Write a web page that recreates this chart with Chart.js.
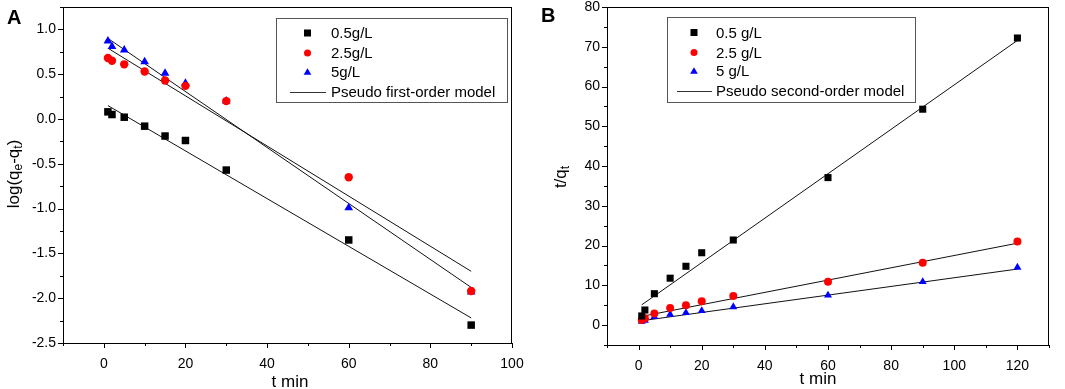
<!DOCTYPE html>
<html>
<head>
<meta charset="utf-8">
<script src="https://cdn.jsdelivr.net/npm/chart.js@4.4.0/dist/chart.umd.min.js"></script>
<style>
  html, body { margin: 0; padding: 0; background: #fff; }
  #wrap { position: relative; width: 1065px; height: 389px; }
  .panel { position: absolute; top: 0; height: 389px; }
  #pa { left: 0; width: 530px; }
  #pb { left: 530px; width: 535px; }
</style>
</head>
<body>
<div id="wrap">
  <div class="panel" id="pa"><canvas id="chartA"></canvas></div>
  <div class="panel" id="pb"><canvas id="chartB"></canvas></div>
</div>
<script>
// Panel A: pseudo first-order, log(qe-qt) vs t
const timeA = [1, 2, 5, 10, 15, 20, 30, 60, 90];
const logA05 = [0.08, 0.05, 0.02, -0.08, -0.19, -0.24, -0.57, -1.35, -2.30];
const logA25 = [0.68, 0.65, 0.61, 0.53, 0.43, 0.37, 0.20, -0.65, -1.92];
const logA5 = [0.87, 0.81, 0.77, 0.64, 0.51, 0.40, 0.20, -0.99, -1.93];
const fitTimeA = [1, 90];
const fitA05 = [0.15, -2.22];
const fitA25 = [0.79, -1.70];
const fitA5 = [0.90, -1.88];
const labelsA = ['0.5g/L', '2.5g/L', '5g/L', 'Pseudo first-order model'];
const ticksAX = [0, 20, 40, 60, 80, 100];
const ticksAY = [-2.5, -2.0, -1.5, -1.0, -0.5, 0.0, 0.5, 1.0];

// Panel B: pseudo second-order, t/qt vs t
const timeB = [1, 2, 5, 10, 15, 20, 30, 60, 90, 120];
const ratioB05 = [2.3, 3.8, 7.9, 11.8, 14.8, 18.2, 21.4, 37.1, 54.3, 72.2];
const ratioB25 = [1.3, 1.7, 2.9, 4.3, 5.0, 6.0, 7.3, 10.9, 15.7, 21.0];
const ratioB5 = [0.9, 1.2, 2.1, 2.7, 3.1, 3.6, 4.6, 7.5, 10.9, 14.5];
const fitTimeB = [1, 120];
const fitB05 = [5.1, 71.6];
const fitB25 = [2.2, 20.6];
const fitB5 = [1.1, 14.1];
const labelsB = ['0.5 g/L', '2.5 g/L', '5 g/L', 'Pseudo second-order model'];
const ticksBX = [0, 20, 40, 60, 80, 100, 120];
const ticksBY = [0, 10, 20, 30, 40, 50, 60, 70, 80];

const FONT = '"Liberation Sans", Arial, sans-serif';
const colors = ['#000000', '#ff0000', '#0000ff'];
const shapes = ['rect', 'circle', 'triangle'];

const toXY = (xs, ys) => xs.map((x, i) => ({ x: x, y: ys[i] }));

function drawMarker(ctx, shape, x, y, r, color) {
  ctx.fillStyle = color;
  ctx.beginPath();
  if (shape === 'rect') {
    ctx.rect(x - r, y - r, 2 * r, 2 * r);
  } else if (shape === 'circle') {
    ctx.arc(x, y, r, 0, Math.PI * 2);
  } else {
    ctx.moveTo(x, y - r * 1.1);
    ctx.lineTo(x + r * 1.1, y + r * 0.8);
    ctx.lineTo(x - r * 1.1, y + r * 0.8);
    ctx.closePath();
  }
  ctx.fill();
}

// text with subscripts, drawn centred at the current origin
function drawRich(ctx, parts, size) {
  const small = Math.round(size * 0.7);
  let total = 0;
  parts.forEach(p => {
    ctx.font = (p.sub ? small : size) + 'px ' + FONT;
    total += ctx.measureText(p.t).width;
  });
  let x = -total / 2;
  parts.forEach(p => {
    ctx.font = (p.sub ? small : size) + 'px ' + FONT;
    ctx.fillText(p.t, x, p.sub ? size * 0.28 : 0);
    x += ctx.measureText(p.t).width;
  });
}

const framePlugin = {
  id: 'frame',
  afterDraw(chart, args, o) {
    const { ctx, chartArea: a, scales } = chart;
    const xs = scales.x, ys = scales.y;
    ctx.save();
    ctx.strokeStyle = '#000';
    ctx.lineWidth = 1;
    ctx.strokeRect(Math.round(a.left) + 0.5, Math.round(a.top) + 0.5,
      Math.round(a.right - a.left) - 1, Math.round(a.bottom - a.top));

    // outward ticks, major + minor
    ctx.beginPath();
    const nx = Math.round((xs.max - xs.min) / (o.xStep / 2));
    for (let i = 0; i <= nx; i++) {
      const v = xs.min + i * o.xStep / 2;
      const major = Math.abs(v / o.xStep - Math.round(v / o.xStep)) < 1e-6;
      const px = Math.round(xs.getPixelForValue(v)) + 0.5;
      ctx.moveTo(px, a.bottom);
      ctx.lineTo(px, a.bottom + (major ? 5 : 3));
    }
    const ny = Math.round((ys.max - ys.min) / (o.yStep / 2));
    for (let i = 0; i <= ny; i++) {
      const v = ys.min + i * o.yStep / 2;
      const major = Math.abs(v / o.yStep - Math.round(v / o.yStep)) < 1e-6;
      const py = Math.round(ys.getPixelForValue(v)) + 0.5;
      ctx.moveTo(a.left, py);
      ctx.lineTo(a.left - (major ? 5 : 3), py);
    }
    ctx.stroke();

    // panel letter
    ctx.fillStyle = '#000';
    ctx.font = 'bold 20px ' + FONT;
    ctx.textAlign = 'left';
    ctx.textBaseline = 'middle';
    ctx.fillText(o.letter, o.letterX, o.letterY);

    // x title
    ctx.font = '17px ' + FONT;
    ctx.textAlign = 'center';
    ctx.fillText(o.xTitle, o.xTitleX, o.xTitleY);

    // y title, rotated
    ctx.save();
    ctx.translate(o.yTitleX, o.yTitleY);
    ctx.rotate(-Math.PI / 2);
    ctx.textAlign = 'left';
    drawRich(ctx, o.yTitle, 17);
    ctx.restore();

    // legend box
    const L = o.legend;
    ctx.strokeStyle = '#555';
    ctx.strokeRect(L.x + 0.5, L.y + 0.5, L.w, L.h);
    ctx.font = '15px ' + FONT;
    ctx.textAlign = 'left';
    ctx.textBaseline = 'middle';
    L.labels.forEach((lab, i) => {
      const y = L.rows[i];
      if (i < 3) {
        drawMarker(ctx, shapes[i], L.symX, y, 3.5, colors[i]);
      } else {
        ctx.strokeStyle = '#333';
        ctx.beginPath();
        ctx.moveTo(L.lineX0, Math.round(y) + 0.5);
        ctx.lineTo(L.lineX1, Math.round(y) + 0.5);
        ctx.stroke();
      }
      ctx.fillStyle = '#000';
      ctx.fillText(lab, L.textX, y + 1);
    });
    ctx.restore();
  }
};

function makeChart(id, cfg) {
  const datasets = [];
  cfg.series.forEach((ys, i) => {
    datasets.push({
      data: toXY(cfg.time, ys),
      pointStyle: shapes[i],
      pointRadius: cfg.radii[i],
      pointHoverRadius: cfg.radii[i],
      backgroundColor: colors[i],
      borderColor: colors[i],
      borderWidth: 0,
      showLine: false,
      order: 0
    });
  });
  cfg.fits.forEach(ys => {
    datasets.push({
      data: toXY(cfg.fitTime, ys),
      showLine: true,
      pointRadius: 0,
      borderColor: '#111',
      borderWidth: 1,
      fill: false,
      order: 1
    });
  });

  return new Chart(document.getElementById(id), {
    type: 'scatter',
    data: { datasets: datasets },
    options: {
      responsive: true,
      maintainAspectRatio: false,
      animation: false,
      layout: { padding: { left: 0, top: 7, right: cfg.padRight, bottom: 0 } },
      plugins: {
        legend: { display: false },
        tooltip: { enabled: false },
        frame: cfg.frame
      },
      scales: {
        x: {
          type: 'linear',
          min: cfg.xMin, max: cfg.xMax,
          grid: { display: false, drawTicks: false },
          border: { display: false },
          ticks: { padding: 13, color: '#000', font: { family: FONT, size: 14 } },
          afterBuildTicks: s => { s.ticks = cfg.xTicks.map(v => ({ value: v })); },
          afterFit: s => { s.height = cfg.xHeight; s.paddingLeft = 0; s.paddingRight = 0; }
        },
        y: {
          type: 'linear',
          min: cfg.yMin, max: cfg.yMax,
          grid: { display: false, drawTicks: false },
          border: { display: false },
          ticks: { padding: 7, color: '#000', font: { family: FONT, size: 14 },
                   callback: v => cfg.yFmt(v) },
          afterBuildTicks: s => { s.ticks = cfg.yTicks.map(v => ({ value: v })); },
          afterFit: s => { s.width = cfg.yWidth; s.paddingTop = 0; s.paddingBottom = 0; }
        }
      }
    },
    plugins: [framePlugin]
  });
}

makeChart('chartA', {
  time: timeA,
  series: [logA05, logA25, logA5],
  radii: [5.3, 4.2, 5],
  fitTime: fitTimeA,
  fits: [fitA05, fitA25, fitA5],
  xMin: -10, xMax: 100, yMin: -2.5, yMax: 1.25,
  xTicks: ticksAX, yTicks: ticksAY,
  yWidth: 63, xHeight: 46, padRight: 18,
  yFmt: v => v.toFixed(1),
  frame: {
    xStep: 20, yStep: 0.5,
    letter: 'A', letterX: 7, letterY: 18,
    xTitle: 't min', xTitleX: 290, xTitleY: 382,
    yTitle: [{ t: 'log(q' }, { t: 'e', sub: true }, { t: '-q' }, { t: 't', sub: true }, { t: ')' }],
    yTitleX: 14, yTitleY: 174,
    legend: {
      x: 276, y: 18, w: 231, h: 84,
      rows: [33, 53, 72, 92],
      symX: 307.5, textX: 331, lineX0: 290, lineX1: 326,
      labels: labelsA
    }
  }
});

makeChart('chartB', {
  time: timeB,
  series: [ratioB05, ratioB25, ratioB5],
  radii: [5, 4, 4.6],
  fitTime: fitTimeB,
  fits: [fitB05, fitB25, fitB5],
  xMin: -10, xMax: 130, yMin: -5, yMax: 80,
  xTicks: ticksBX, yTicks: ticksBY,
  yWidth: 77, xHeight: 44, padRight: 16,
  yFmt: v => String(v),
  frame: {
    xStep: 20, yStep: 10,
    letter: 'B', letterX: 11, letterY: 16,
    xTitle: 't min', xTitleX: 288, xTitleY: 379,
    yTitle: [{ t: 't/q' }, { t: 't', sub: true }],
    yTitleX: 31, yTitleY: 177,
    legend: {
      x: 137, y: 17, w: 248, h: 85,
      rows: [32.5, 52.5, 71, 91],
      symX: 164, textX: 186, lineX0: 147, lineX1: 182,
      labels: labelsB
    }
  }
});
</script>
</body>
</html>
